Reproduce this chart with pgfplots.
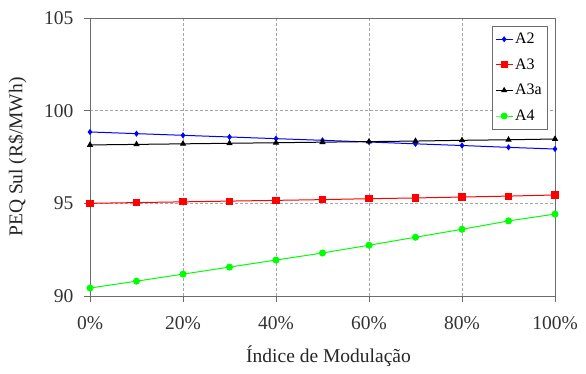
\documentclass[border=0pt]{standalone}
\usepackage{pgfplots}
\pgfplotsset{compat=1.18}
\usepackage{fontspec}
\setmainfont{Liberation Serif}
\begin{document}
\begin{tikzpicture}
\begin{axis}[
  scale only axis, width=465pt, height=278pt,
  xmin=0, xmax=100, ymin=90, ymax=105,
  xtick={0,20,40,60,80,100},
  xticklabels={0\%,20\%,40\%,60\%,80\%,100\%},
  ytick={90,95,100,105},
  /pgf/number format/assume math mode=true,
  tick label style={font=\fontsize{19.5}{22}\selectfont, text=black!80},
  xlabel={Índice de Modulação},
  ylabel={PEQ Sul (R\$/MWh)},
  every axis x label/.style={at={(axis description cs:0.5,0)}, anchor=north, yshift=-46pt, xshift=6pt, font=\fontsize{19.5}{22}\selectfont, text=black!85},
  every axis y label/.style={at={(axis description cs:0,0.5)}, rotate=90, anchor=south, yshift=60pt, font=\fontsize{19.5}{22}\selectfont, text=black!85},
  yticklabel style={xshift=-7pt},
  xticklabel style={yshift=-11pt},
  grid=major,
  major grid style={densely dashed, gray!70, line width=0.5pt},
  axis line style={gray!85!black, line width=0.9pt},
  tick style={gray!85!black, line width=0.8pt},
  major tick length=6pt,
  xtick align=outside, ytick align=outside,
  xtick pos=bottom, ytick pos=left,
  legend style={font=\fontsize{16}{18}\selectfont, draw=gray!85!black, at={(1,1)}, xshift=-8pt, yshift=-8pt, anchor=north east, row sep=9.5pt, inner xsep=3pt, inner ysep=5pt},
  legend cell align=left,
  legend image post style={line width=0.9pt},
  legend image code/.code={\draw[mark repeat=2,mark phase=2] plot coordinates {(0cm,0cm) (0.3cm,0cm) (0.6cm,0cm)};},
]
\addplot[blue, line width=1pt, mark=diamond*, mark size=2.3pt] coordinates {
(0,98.85) (10,98.76) (20,98.67) (30,98.58) (40,98.49) (50,98.40) (60,98.31) (70,98.21) (80,98.12) (90,98.02) (100,97.93)};
\addlegendentry{A2}
\addplot[red, line width=1pt, mark=square*, mark size=3.1pt] coordinates {
(0,95.00) (10,95.04) (20,95.08) (30,95.12) (40,95.16) (50,95.20) (60,95.25) (70,95.29) (80,95.34) (90,95.39) (100,95.45)};
\addlegendentry{A3}
\addplot[black, line width=1pt, mark=triangle*, mark size=2.7pt] coordinates {
(0,98.15) (10,98.18) (20,98.21) (30,98.24) (40,98.27) (50,98.30) (60,98.33) (70,98.36) (80,98.40) (90,98.43) (100,98.47)};
\addlegendentry{A3a}
\addplot[green, line width=1pt, mark=*, mark size=3pt] coordinates {
(0,90.43) (10,90.80) (20,91.18) (30,91.56) (40,91.94) (50,92.32) (60,92.74) (70,93.17) (80,93.60) (90,94.05) (100,94.42)};
\addlegendentry{A4}
\end{axis}
\pgfresetboundingbox
\path ([shift={(-90pt,-78pt)}]current axis.south west) rectangle ([shift={(31pt,18pt)}]current axis.north east);
\end{tikzpicture}
\end{document}
